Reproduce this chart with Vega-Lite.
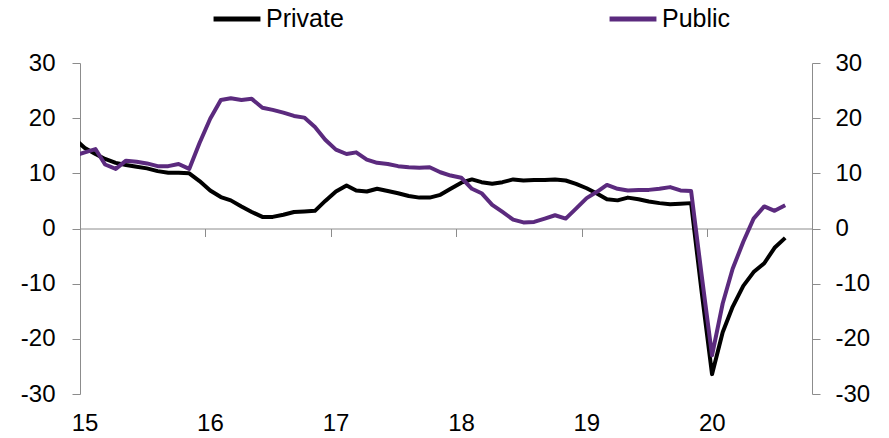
{
  "$schema": "https://vega.github.io/schema/vega-lite/v6.json",
  "width": 732,
  "height": 331,
  "autosize": {"type": "none"},
  "padding": {"left": 80, "top": 63, "right": 77, "bottom": 44},
  "background": "#ffffff",
  "config": {
    "view": {"stroke": null},
    "axis": {
      "domainColor": "#8c8c8c",
      "tickColor": "#8c8c8c",
      "tickSize": 8,
      "labelFont": "Liberation Sans",
      "labelFontSize": 24,
      "labelColor": "#000000",
      "grid": false,
      "title": null
    },
    "legend": {
      "labelFont": "Liberation Sans",
      "labelFontSize": 24,
      "labelColor": "#000000"
    }
  },
  "data": {
    "values": [
      {"date": "2014-12-15", "Private": 16.3, "Public": 13.2},
      {"date": "2015-01-15", "Private": 14.6, "Public": 13.8},
      {"date": "2015-02-15", "Private": 13.5, "Public": 14.4},
      {"date": "2015-03-15", "Private": 12.6, "Public": 11.6},
      {"date": "2015-04-15", "Private": 11.9, "Public": 10.8},
      {"date": "2015-05-15", "Private": 11.5, "Public": 12.3},
      {"date": "2015-06-15", "Private": 11.2, "Public": 12.1},
      {"date": "2015-07-15", "Private": 10.9, "Public": 11.8},
      {"date": "2015-08-15", "Private": 10.4, "Public": 11.3},
      {"date": "2015-09-15", "Private": 10.1, "Public": 11.3},
      {"date": "2015-10-15", "Private": 10.1, "Public": 11.7},
      {"date": "2015-11-15", "Private": 10.0, "Public": 10.8},
      {"date": "2015-12-15", "Private": 8.6, "Public": 15.5},
      {"date": "2016-01-15", "Private": 6.9, "Public": 19.9},
      {"date": "2016-02-15", "Private": 5.7, "Public": 23.3},
      {"date": "2016-03-15", "Private": 5.1, "Public": 23.6},
      {"date": "2016-04-15", "Private": 4.0, "Public": 23.3},
      {"date": "2016-05-15", "Private": 3.0, "Public": 23.5},
      {"date": "2016-06-15", "Private": 2.1, "Public": 21.9},
      {"date": "2016-07-15", "Private": 2.1, "Public": 21.5},
      {"date": "2016-08-15", "Private": 2.5, "Public": 21.0},
      {"date": "2016-09-15", "Private": 3.0, "Public": 20.4},
      {"date": "2016-10-15", "Private": 3.1, "Public": 20.1},
      {"date": "2016-11-15", "Private": 3.2, "Public": 18.4},
      {"date": "2016-12-15", "Private": 5.0, "Public": 16.1},
      {"date": "2017-01-15", "Private": 6.7, "Public": 14.3},
      {"date": "2017-02-15", "Private": 7.8, "Public": 13.5},
      {"date": "2017-03-15", "Private": 6.9, "Public": 13.8},
      {"date": "2017-04-15", "Private": 6.7, "Public": 12.5},
      {"date": "2017-05-15", "Private": 7.2, "Public": 11.9},
      {"date": "2017-06-15", "Private": 6.8, "Public": 11.7},
      {"date": "2017-07-15", "Private": 6.4, "Public": 11.3},
      {"date": "2017-08-15", "Private": 5.9, "Public": 11.1},
      {"date": "2017-09-15", "Private": 5.6, "Public": 11.0},
      {"date": "2017-10-15", "Private": 5.6, "Public": 11.1},
      {"date": "2017-11-15", "Private": 6.1, "Public": 10.2},
      {"date": "2017-12-15", "Private": 7.2, "Public": 9.6},
      {"date": "2018-01-15", "Private": 8.3, "Public": 9.2},
      {"date": "2018-02-15", "Private": 8.9, "Public": 7.2},
      {"date": "2018-03-15", "Private": 8.4, "Public": 6.4},
      {"date": "2018-04-15", "Private": 8.1, "Public": 4.3},
      {"date": "2018-05-15", "Private": 8.4, "Public": 3.0},
      {"date": "2018-06-15", "Private": 8.9, "Public": 1.6},
      {"date": "2018-07-15", "Private": 8.7, "Public": 1.1},
      {"date": "2018-08-15", "Private": 8.8, "Public": 1.2},
      {"date": "2018-09-15", "Private": 8.8, "Public": 1.8},
      {"date": "2018-10-15", "Private": 8.9, "Public": 2.4},
      {"date": "2018-11-15", "Private": 8.7, "Public": 1.8},
      {"date": "2018-12-15", "Private": 8.1, "Public": 3.6},
      {"date": "2019-01-15", "Private": 7.3, "Public": 5.5},
      {"date": "2019-02-15", "Private": 6.3, "Public": 6.7},
      {"date": "2019-03-15", "Private": 5.3, "Public": 7.9},
      {"date": "2019-04-15", "Private": 5.1, "Public": 7.2},
      {"date": "2019-05-15", "Private": 5.6, "Public": 6.9},
      {"date": "2019-06-15", "Private": 5.3, "Public": 7.0},
      {"date": "2019-07-15", "Private": 4.9, "Public": 7.0},
      {"date": "2019-08-15", "Private": 4.6, "Public": 7.2},
      {"date": "2019-09-15", "Private": 4.4, "Public": 7.5},
      {"date": "2019-10-15", "Private": 4.5, "Public": 6.9},
      {"date": "2019-11-15", "Private": 4.6, "Public": 6.8},
      {"date": "2019-12-15", "Private": -11.1, "Public": -8.1},
      {"date": "2020-01-15", "Private": -26.4, "Public": -23.0},
      {"date": "2020-02-15", "Private": -18.8, "Public": -13.6},
      {"date": "2020-03-15", "Private": -14.2, "Public": -7.3},
      {"date": "2020-04-15", "Private": -10.4, "Public": -2.4},
      {"date": "2020-05-15", "Private": -7.9, "Public": 1.8},
      {"date": "2020-06-15", "Private": -6.3, "Public": 4.0},
      {"date": "2020-07-15", "Private": -3.5, "Public": 3.2},
      {"date": "2020-08-15", "Private": -1.7, "Public": 4.2}
    ]
  },
  "transform": [{"fold": ["Private", "Public"], "as": ["series", "value"]}],
  "encoding": {
    "x": {
      "field": "date",
      "type": "temporal",
      "scale": {
        "type": "utc",
        "domain": [
          {"year": 2015, "month": 1, "date": 1, "utc": true},
          {"year": 2020, "month": 11, "date": 1, "utc": true}
        ]
      },
      "axis": {
        "values": [
          {"year": 2015, "month": 1, "date": 1, "utc": true},
          {"year": 2016, "month": 1, "date": 1, "utc": true},
          {"year": 2017, "month": 1, "date": 1, "utc": true},
          {"year": 2018, "month": 1, "date": 1, "utc": true},
          {"year": 2019, "month": 1, "date": 1, "utc": true},
          {"year": 2020, "month": 1, "date": 1, "utc": true}
        ],
        "format": "%y",
        "offset": -165.5,
        "labelPadding": 175,
        "labelOffset": 4.5,
        "labelFlush": false,
        "labelOverlap": false
      }
    },
    "color": {
      "field": "series",
      "type": "nominal",
      "scale": {"domain": ["Private", "Public"], "range": ["#000000", "#5B2A7E"]},
      "legend": {
        "title": null,
        "orient": "none",
        "direction": "horizontal",
        "legendX": 131,
        "legendY": -70,
        "padding": 0,
        "symbolType": "stroke",
        "symbolSize": 2200,
        "symbolStrokeWidth": 5,
        "labelOffset": 3,
        "labelFontSize": 25,
        "columnPadding": 255
      }
    }
  },
  "layer": [
    {
      "transform": [{"filter": "datum.series === 'Private'"}],
      "mark": {"type": "line", "strokeWidth": 4, "clip": true, "strokeJoin": "round"},
      "encoding": {
        "y": {
          "field": "value",
          "type": "quantitative",
          "scale": {"domain": [-30, 30], "nice": false, "zero": false},
          "axis": {"orient": "left", "values": [-30, -20, -10, 0, 10, 20, 30], "labelExpr": "'' + datum.value", "labelPadding": 17}
        }
      }
    },
    {
      "transform": [{"filter": "datum.series === 'Public'"}],
      "mark": {"type": "line", "strokeWidth": 4, "clip": true, "strokeJoin": "round"},
      "encoding": {
        "y": {
          "field": "value",
          "type": "quantitative",
          "scale": {"domain": [-30, 30], "nice": false, "zero": false},
          "axis": {"orient": "right", "values": [-30, -20, -10, 0, 10, 20, 30], "labelExpr": "'' + datum.value", "labelPadding": 15}
        }
      }
    }
  ],
  "resolve": {"scale": {"y": "independent"}}
}
